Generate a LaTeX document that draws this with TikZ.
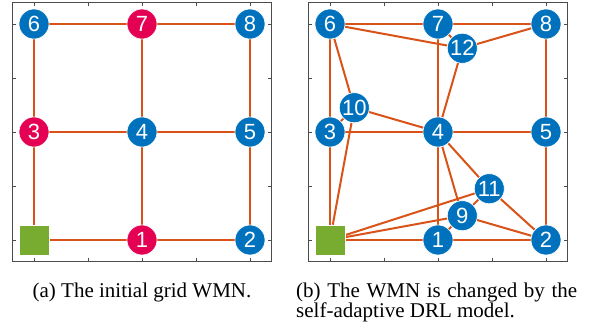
\documentclass[tikz,border=0pt]{standalone}
\usepackage{fontspec}
\setmainfont{Liberation Serif}
\newfontfamily\meshfont{Liberation Sans}
\usetikzlibrary{backgrounds}
\definecolor{meshblue}{RGB}{0,114,189}
\definecolor{meshred}{RGB}{228,0,82}
\definecolor{linkorange}{RGB}{217,83,25}
\definecolor{gategreen}{RGB}{119,172,48}
\tikzset{
  router/.style={circle,fill=meshblue,draw=white,line width=0.6pt,minimum size=30pt,
    inner sep=0pt,text=white,font=\meshfont\fontsize{22}{22}\selectfont},
  hotrouter/.style={router,fill=meshred},
  gateway/.style={rectangle,fill=gategreen,draw=white,line width=0.6pt,minimum size=30pt,inner sep=0pt},
  link/.style={linkorange,line width=2pt},
  axframe/.style={black!70,line width=0.7pt},
  caption/.style={inner sep=0pt,font=\fontsize{21}{20}\selectfont}
}
\begin{document}
\begin{tikzpicture}[x=54pt,y=54pt]
\useasboundingbox (-34pt,-90pt) rectangle (564pt,240pt);

\draw[axframe] (-0.4,-0.4) rectangle (4.4,4.4);
\foreach \t in {0,...,4}
  \draw[axframe] (\t,-0.4) -- ++(0,3.5pt) (\t,4.4) -- ++(0,-3.5pt)
    (-0.4,\t) -- ++(3.5pt,0) (4.4,\t) -- ++(-3.5pt,0);
\node[gateway] (a0) at (0,0) {};
\node[hotrouter] (a1) at (2,0) {1};
\node[router] (a2) at (4,0) {2};
\node[hotrouter] (a3) at (0,2) {3};
\node[router] (a4) at (2,2) {4};
\node[router] (a5) at (4,2) {5};
\node[router] (a6) at (0,4) {6};
\node[hotrouter] (a7) at (2,4) {7};
\node[router] (a8) at (4,4) {8};
\begin{pgfonlayer}{background}
\foreach \u/\v in {a6/a7,a7/a8,a3/a4,a4/a5,a0/a1,a1/a2,a6/a3,a3/a0,a7/a4,a4/a1,a8/a5,a5/a2}
  \draw[link] (\u) -- (\v);
\end{pgfonlayer}
\node[caption,anchor=base] (capa) at (2,-57pt) {(a) The initial grid WMN.};

\begin{scope}[xshift=296pt]
\draw[axframe] (-0.4,-0.4) rectangle (4.4,4.4);
\foreach \t in {0,...,4}
  \draw[axframe] (\t,-0.4) -- ++(0,3.5pt) (\t,4.4) -- ++(0,-3.5pt)
    (-0.4,\t) -- ++(3.5pt,0) (4.4,\t) -- ++(-3.5pt,0);
\node[gateway] (b0) at (0,0) {};
\node[router] (b1) at (2,0) {1};
\node[router] (b2) at (4,0) {2};
\node[router] (b3) at (0,2) {3};
\node[router] (b4) at (2,2) {4};
\node[router] (b5) at (4,2) {5};
\node[router] (b6) at (0,4) {6};
\node[router] (b7) at (2,4) {7};
\node[router] (b8) at (4,4) {8};
\node[router] (b9) at (2.45,0.45) {9};
\node[router] (b10) at (0.45,2.45) {10};
\node[router] (b11) at (2.95,0.95) {11};
\node[router] (b12) at (2.45,3.55) {12};
\begin{pgfonlayer}{background}
\foreach \u/\v in {b6/b7,b7/b8,b3/b4,b4/b5,b0/b1,b1/b2,b6/b3,b3/b0,b7/b4,b4/b1,b8/b5,b5/b2,
    b6/b12,b7/b12,b8/b12,b12/b4,b6/b10,b3/b10,b10/b4,b10/b0,
    b4/b9,b4/b11,b0/b11,b0/b9,b1/b9,b9/b11,b9/b2,b11/b2}
  \draw[link] (\u) -- (\v);
\end{pgfonlayer}
\node[caption,anchor=base west] (capb) at (-34pt,-57pt)
  {\parbox[t]{281pt}{(b) The WMN is changed by the\linebreak self-adaptive DRL model.}};
\end{scope}
\end{tikzpicture}
\end{document}
